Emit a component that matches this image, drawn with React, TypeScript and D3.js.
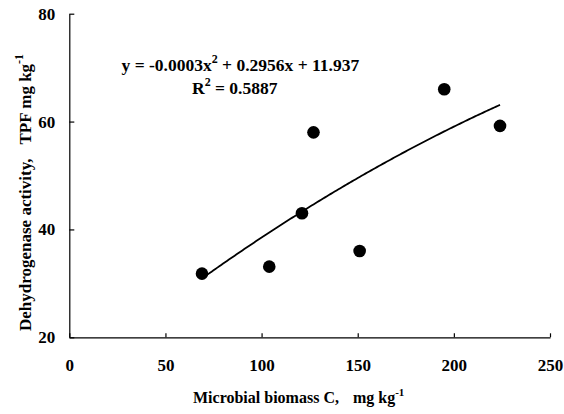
import React, { useEffect, useRef } from 'react';
import * as d3 from 'd3';

// measured points: microbial biomass C vs dehydrogenase activity
const biomass = [69, 104, 121, 127, 151, 195, 224];
const activity = [31.8, 33.1, 43.0, 58.0, 36.0, 66.0, 59.2];
// polynomial trendline coefficients (c2, c1, c0)
const trendCoef = [-0.0003, 0.2956, 11.937];
const xTicks = [0, 50, 100, 150, 200, 250];
const yTicks = [20, 40, 60, 80];

const font = '"Liberation Serif", "Times New Roman", serif';

export default function App() {
  const ref = useRef<SVGSVGElement>(null);

  useEffect(() => {
    document.body.style.margin = '0';
    const svg = d3.select(ref.current);
    svg.selectAll('*').remove();

    const x = d3.scaleLinear().domain([0, 250]).range([69.3, 550]);
    const y = d3.scaleLinear().domain([20, 80]).range([337.3, 13.7]);

    // axes
    const xAxis = d3.axisBottom(x).tickValues(xTicks).tickSizeInner(-4).tickSizeOuter(0).tickPadding(22);
    const yAxis = d3.axisLeft(y).tickValues(yTicks).tickSizeInner(-5).tickSizeOuter(0).tickPadding(14);

    const gx = svg.append('g').attr('transform', `translate(0,${y(20)})`).call(xAxis);
    const gy = svg.append('g').attr('transform', `translate(${x(0)},0)`).call(yAxis);

    [gx, gy].forEach(g => {
      g.select('.domain').attr('stroke', '#000').attr('stroke-width', 1.2);
      g.selectAll('.tick line').attr('stroke', '#000').attr('stroke-width', 1.2);
      g.selectAll('.tick text')
        .attr('fill', '#000')
        .style('font-family', font)
        .style('font-weight', 'bold')
        .style('font-size', '17px');
    });

    // trendline from the fit
    const fit = (v: number) => trendCoef[0] * v * v + trendCoef[1] * v + trendCoef[2];
    const xs = d3.range(d3.min(biomass)!, d3.max(biomass)! + 0.5, 1);
    const line = d3.line<number>().x(d => x(d)).y(d => y(fit(d)));
    svg.append('path')
      .datum(xs)
      .attr('d', line)
      .attr('fill', 'none')
      .attr('stroke', '#000')
      .attr('stroke-width', 1.8);

    // points
    svg.selectAll('circle.pt')
      .data(biomass)
      .enter()
      .append('circle')
      .attr('class', 'pt')
      .attr('cx', d => x(d))
      .attr('cy', (d, i) => y(activity[i]))
      .attr('r', 6.3)
      .attr('fill', '#000');

    const txt = (sel: any, size = 17.5) => sel
      .style('font-family', font)
      .style('font-weight', 'bold')
      .style('font-size', size + 'px')
      .attr('fill', '#000');

    // equation
    const eq = svg.append('text').attr('x', 121.5).attr('y', 71).call(txt);
    eq.append('tspan').text('y = -0.0003x');
    eq.append('tspan').attr('dy', -8).style('font-size', '12px').text('2');
    eq.append('tspan').attr('dy', 8).text(' + 0.2956x + 11.937');

    const r2 = svg.append('text').attr('x', 192).attr('y', 93.5).call(txt);
    r2.append('tspan').text('R');
    r2.append('tspan').attr('dy', -8).style('font-size', '12px').text('2');
    r2.append('tspan').attr('dy', 8).text(' = 0.5887');

    // x label
    const xl = svg.append('text').attr('x', 193).attr('y', 403).call(txt, 16);
    xl.append('tspan').text('Microbial biomass C,');
    xl.append('tspan').attr('dx', 14).text('mg kg');
    xl.append('tspan').attr('dy', -7).style('font-size', '11px').text('-1');

    // y label
    const yl = svg.append('text')
      .attr('transform', 'translate(31,331) rotate(-90)')
      .call(txt, 17);
    yl.append('tspan').text('Dehydrogenase activity,');
    yl.append('tspan').attr('dx', 14).text('TPF mg kg');
    yl.append('tspan').attr('dy', -8).style('font-size', '12px').text('-1');
  }, []);

  return <svg ref={ref} width={564} height={414} style={{ display: 'block', background: '#fff' }} />;
}
